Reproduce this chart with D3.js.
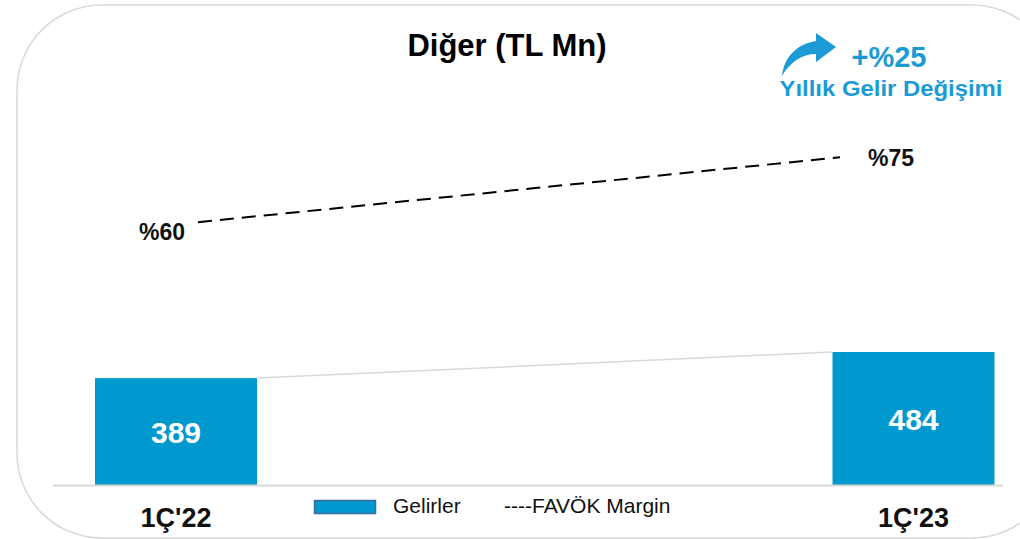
<!DOCTYPE html>
<html><head><meta charset="utf-8">
<script src="https://cdn.jsdelivr.net/npm/d3@7/dist/d3.min.js"></script>
<style>body{margin:0;background:#fff}svg{display:block;font-family:"Liberation Sans",Arial,sans-serif}</style>
</head><body>
<svg id="c" width="1020" height="539"></svg>
<script>
const categories = ["1Ç'22", "1Ç'23"];
const revenues = [389, 484];
const margins = [60, 75];
const marginLabels = ["%60", "%75"];
const title = "Diğer (TL Mn)";
const changeValue = "+%25";
const changeLabel = "Yıllık Gelir Değişimi";
const legendLabels = ["Gelirler", "----FAVÖK Margin"];

const svg = d3.select("#c");
const blue = "#0099cf";
const textBlue = "#1b9ad6";
const grey = "#d9d9d9";

// frame
svg.append("rect").attr("x", 17).attr("y", 5).attr("width", 1040).attr("height", 533)
  .attr("rx", 85).attr("ry", 85).attr("fill", "#fff").attr("stroke", grey).attr("stroke-width", 1.5);

const x = d3.scalePoint().domain(categories).range([176, 913.5]);
const barW = 162;
const y = d3.scaleLinear().domain([0, 484]).range([485, 352]);
const xm = d3.scalePoint().domain(categories).range([198, 840]);
const ym = d3.scaleLinear().domain([0, 100]).range([482, 49]);

// connector line between bar tops
svg.append("line")
  .attr("x1", x(categories[0]) + barW / 2).attr("y1", y(revenues[0]))
  .attr("x2", x(categories[1]) - barW / 2).attr("y2", y(revenues[1]))
  .attr("stroke", grey).attr("stroke-width", 1.5);

// bars
svg.selectAll("rect.bar").data(revenues).join("rect").attr("class", "bar")
  .attr("x", (d, i) => x(categories[i]) - barW / 2)
  .attr("y", d => y(d)).attr("width", barW).attr("height", d => y(0) - y(d))
  .attr("fill", blue);

// baseline
svg.append("line").attr("x1", 53).attr("x2", 1003).attr("y1", y(0) + 0.5).attr("y2", y(0) + 0.5)
  .attr("stroke", grey).attr("stroke-width", 2);

// bar value labels
svg.selectAll("text.val").data(revenues).join("text").attr("class", "val")
  .attr("x", (d, i) => x(categories[i])).attr("y", d => (y(d) + y(0)) / 2 + 11)
  .attr("text-anchor", "middle").attr("fill", "#fff").attr("font-weight", "bold")
  .attr("font-size", 30).text(d => d);

// category labels
svg.selectAll("text.cat").data(categories).join("text").attr("class", "cat")
  .attr("x", d => x(d)).attr("y", 527).attr("text-anchor", "middle")
  .attr("font-weight", "bold").attr("font-size", 27).attr("fill", "#111").text(d => d);

// margin dashed line
const line = d3.line().x((d, i) => xm(categories[i])).y(d => ym(d));
svg.append("path").datum(margins).attr("d", line).attr("fill", "none")
  .attr("stroke", "#000").attr("stroke-width", 2).attr("stroke-dasharray", "14 8");

svg.selectAll("text.mlab").data(marginLabels).join("text").attr("class", "mlab")
  .attr("x", (d, i) => i === 0 ? xm(categories[i]) - 13 : xm(categories[i]) + 28)
  .attr("y", (d, i) => i === 0 ? ym(margins[i]) + 18 : ym(margins[i]) + 9)
  .attr("text-anchor", (d, i) => i === 0 ? "end" : "start")
  .attr("font-weight", "bold").attr("font-size", 23).attr("fill", "#111").text(d => d);

// title
svg.append("text").attr("x", 507).attr("y", 56).attr("text-anchor", "middle")
  .attr("font-weight", "bold").attr("font-size", 31).attr("fill", "#000").text(title);

// change annotation
svg.append("path")
  .attr("d", "M782,76 C784,58 796,44 816,41 L816,33 L836,47 L816,62 L816,54 C802,54 790,62 782,76 Z")
  .attr("fill", textBlue);
svg.append("text").attr("x", 889).attr("y", 67).attr("text-anchor", "middle")
  .attr("font-weight", "bold").attr("font-size", 29).attr("fill", textBlue).text(changeValue);
svg.append("text").attr("x", 891).attr("y", 96).attr("text-anchor", "middle")
  .attr("font-weight", "bold").attr("font-size", 22).attr("fill", textBlue)
  .attr("textLength", 223).attr("lengthAdjust", "spacingAndGlyphs").text(changeLabel);

// legend
svg.append("rect").attr("x", 314.5).attr("y", 500.5).attr("width", 61).attr("height", 13)
  .attr("fill", blue).attr("stroke", "#3c6b9c").attr("stroke-width", 1.5);
svg.append("text").attr("x", 393).attr("y", 513).attr("font-size", 21).attr("fill", "#111").text(legendLabels[0]);
svg.append("text").attr("x", 504).attr("y", 513).attr("font-size", 21).attr("fill", "#111").text(legendLabels[1]);
</script>
</body></html>
